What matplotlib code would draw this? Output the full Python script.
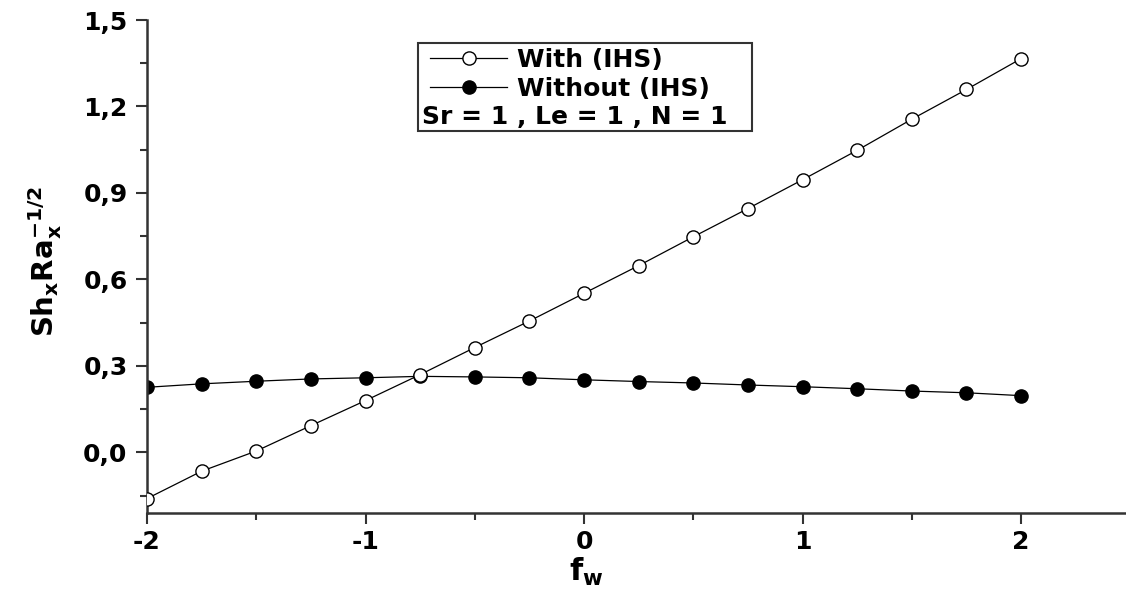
import matplotlib
matplotlib.use("Agg")
import matplotlib.pyplot as plt
from matplotlib.patches import Rectangle
from matplotlib.ticker import MultipleLocator, FuncFormatter

# suction/injection parameter f_w
fw = [-2.0, -1.75, -1.5, -1.25, -1.0, -0.75, -0.5, -0.25, 0.0,
      0.25, 0.5, 0.75, 1.0, 1.25, 1.5, 1.75, 2.0]

# Sh_x Ra_x^-1/2 with internal heat source
with_ihs = [-0.160, -0.065, 0.005, 0.093, 0.180, 0.270, 0.364, 0.456, 0.552,
            0.648, 0.748, 0.846, 0.946, 1.048, 1.156, 1.259, 1.366]
# ... and without
without_ihs = [0.226, 0.238, 0.247, 0.255, 0.259, 0.264, 0.262, 0.259, 0.252,
               0.246, 0.241, 0.234, 0.228, 0.221, 0.213, 0.207, 0.197]

legend_labels = ["With (IHS)", "Without (IHS)"]
param_text = "Sr = 1 , Le = 1 , N = 1"

plt.rcParams["font.family"] = "DejaVu Sans"
plt.rcParams["font.weight"] = "bold"
plt.rcParams["axes.unicode_minus"] = False
plt.rcParams["mathtext.fontset"] = "custom"
plt.rcParams["mathtext.rm"] = "DejaVu Sans:bold"
plt.rcParams["mathtext.it"] = "DejaVu Sans:bold"
plt.rcParams["mathtext.bf"] = "DejaVu Sans:bold"

W, H = 1126, 594
fig = plt.figure(figsize=(W / 100, H / 100), dpi=100)
ax = fig.add_axes([147 / W, 81 / H, (W - 147) / W, 493 / H])

ax.plot(fw, with_ihs, "-o", color="black", lw=0.9, ms=9.5,
        mfc="white", mec="black", mew=1.0, label=legend_labels[0], zorder=3)
ax.plot(fw, without_ihs, "-o", color="black", lw=0.9, ms=9.5,
        mfc="black", mec="black", label=legend_labels[1], zorder=2)

ax.set_xlim(-2.0, 2.48)
ax.set_ylim(-0.21, 1.5)

for side in ("top", "right"):
    ax.spines[side].set_visible(False)
for side in ("left", "bottom"):
    ax.spines[side].set_linewidth(1.8)
    ax.spines[side].set_color("#333333")

ax.xaxis.set_major_locator(MultipleLocator(1.0))
ax.xaxis.set_minor_locator(MultipleLocator(0.5))
ax.yaxis.set_major_locator(MultipleLocator(0.3))
ax.yaxis.set_minor_locator(MultipleLocator(0.15))
ax.xaxis.set_major_formatter(FuncFormatter(lambda v, p: f"{v:.0f}"))
ax.yaxis.set_major_formatter(FuncFormatter(lambda v, p: f"{v:.1f}".replace(".", ",")))
ax.tick_params(which="major", direction="out", length=8, width=1.5,
               labelsize=18, color="#333333")
ax.tick_params(which="minor", direction="out", length=5, width=1.5,
               color="#333333")
ax.tick_params(axis="x", pad=4)
ax.tick_params(axis="y", pad=6)

fig.text(45 / W, 1 - 262 / H, r"$\mathrm{Sh_x Ra_x^{-1/2}}$", rotation=90,
         ha="center", va="center", fontsize=21)
fig.text(586 / W, 1 - 572 / H, r"$\mathrm{f_w}$", ha="center", va="center",
         fontsize=22)

# legend box: two line entries plus the parameter line
leg = ax.legend(loc="upper left", bbox_to_anchor=(0.289, 0.944), frameon=False,
                fontsize=18, handlelength=3.1, handletextpad=0.4,
                labelspacing=0.2, borderpad=0, borderaxespad=0)
ax.text(0.281, 0.803, param_text, transform=ax.transAxes, ha="left",
        va="center", fontsize=18)
ax.add_patch(Rectangle((0.277, 0.775), 0.341, 0.178, transform=ax.transAxes,
                       fill=False, lw=1.5, ec="#333333", zorder=5))

fig.savefig("out.png", dpi=100)
